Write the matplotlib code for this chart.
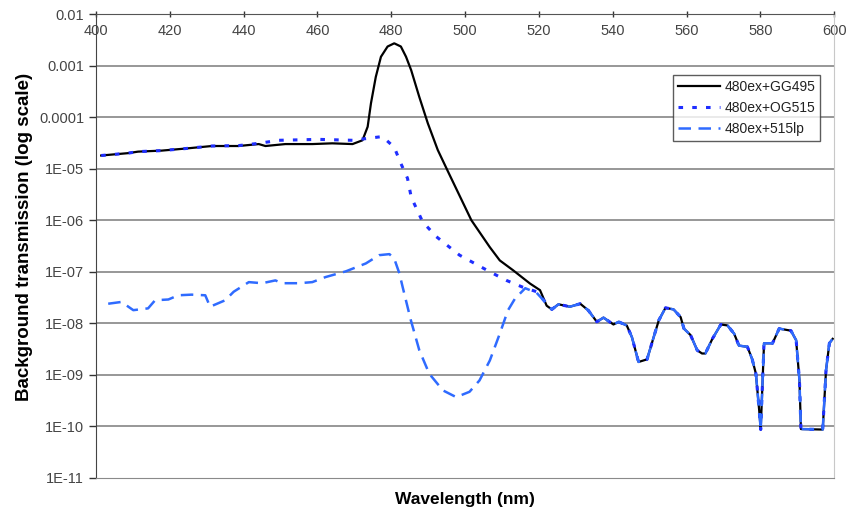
import numpy as np
import matplotlib
matplotlib.use("Agg")
import matplotlib.pyplot as plt

plt.rcParams['font.family'] = ['Liberation Sans', 'DejaVu Sans']

# shared tail, all three filters coincide above ~523 nm
tail_nm = [523.5, 525.3, 528.4, 531.2, 533.4, 535.7, 537.5, 540.2, 541.6, 543.8,
           545.2, 547.0, 549.3, 551.1, 552.5, 554.3, 556.5, 558.4, 559.3, 561.1,
           562.9, 564.2, 565.1, 567.0, 569.3, 571.1, 572.9, 574.2, 576.5, 577.8,
           578.8, 579.7, 580.1, 581.0, 583.3, 585.1, 588.3, 589.7, 590.6, 591.0,
           596.9, 597.8, 598.7, 599.6]
tail_val = [1.86e-8, 2.34e-8, 2.1e-8, 2.4e-8, 1.78e-8, 1.07e-8, 1.29e-8, 9.5e-9, 1.07e-8, 9.1e-9,
            5.4e-9, 1.78e-9, 2.0e-9, 5.4e-9, 1.15e-8, 2.0e-8, 1.86e-8, 1.32e-8, 7.9e-9, 5.9e-9,
            3.0e-9, 2.6e-9, 2.6e-9, 5.0e-9, 9.5e-9, 9.1e-9, 6.3e-9, 3.7e-9, 3.5e-9, 2.0e-9,
            1.05e-9, 2.0e-10, 8.7e-11, 4.1e-9, 4.1e-9, 7.9e-9, 7.2e-9, 4.7e-9, 7.8e-10, 8.9e-11,
            8.7e-11, 1.23e-9, 4.1e-9, 5.0e-9]

gg495_nm = [401.4, 408.7, 411.4, 417.8, 424.1, 431.4, 438.6, 444.1, 445.9, 451.3,
            458.6, 464.0, 469.5, 472.2, 473.6, 474.5, 475.8, 477.2, 479.0, 480.8,
            482.6, 484.0, 485.4, 487.6, 489.9, 492.6, 495.3, 501.7, 506.7, 509.4,
            513.0, 517.6, 520.3, 522.1]
gg495_val = [1.8e-5, 2.0e-5, 2.14e-5, 2.24e-5, 2.45e-5, 2.75e-5, 2.75e-5, 3.0e-5, 2.75e-5, 3.0e-5,
             3.0e-5, 3.1e-5, 3.0e-5, 3.55e-5, 6.5e-5, 1.86e-4, 6.0e-4, 1.48e-3, 2.34e-3, 2.7e-3,
             2.34e-3, 1.48e-3, 8.1e-4, 2.45e-4, 7.6e-5, 2.3e-5, 9.0e-6, 1.0e-6, 3.0e-7, 1.66e-7,
             1.07e-7, 5.9e-8, 4.4e-8, 2.2e-8]

og515_nm = [401.4, 408.7, 411.4, 417.8, 424.1, 431.4, 438.6, 444.1, 449.5, 460.4,
            469.5, 477.6, 480.8, 482.6, 484.4, 485.4, 488.5, 492.2, 498.5, 506.7,
            511.2, 515.7, 519.4, 522.1]
og515_val = [1.8e-5, 2.0e-5, 2.14e-5, 2.24e-5, 2.45e-5, 2.75e-5, 2.8e-5, 3.1e-5, 3.55e-5, 3.7e-5,
             3.55e-5, 4.2e-5, 2.6e-5, 1.26e-5, 6.5e-6, 2.8e-6, 9.3e-7, 4.8e-7, 2.1e-7, 1.0e-7,
             6.8e-8, 5.0e-8, 4.1e-8, 2.4e-8]

lp515_nm = [403.3, 406.9, 410.1, 414.1, 416.0, 419.6, 422.3, 425.9, 429.6, 430.9,
            435.0, 437.3, 441.4, 445.0, 448.6, 450.4, 455.0, 458.6, 462.2, 467.7,
            473.1, 476.7, 479.5, 480.8, 482.2, 483.1, 485.3, 487.6, 490.3, 494.0,
            497.6, 501.2, 503.9, 506.7, 509.4, 511.6, 513.5, 516.3, 519.4, 522.1]
lp515_val = [2.4e-8, 2.6e-8, 1.8e-8, 1.95e-8, 2.8e-8, 2.9e-8, 3.5e-8, 3.6e-8, 3.5e-8, 2.1e-8,
             2.8e-8, 4.1e-8, 6.3e-8, 6.0e-8, 6.8e-8, 6.0e-8, 6.0e-8, 6.3e-8, 7.9e-8, 1.02e-7,
             1.45e-7, 2.1e-7, 2.2e-7, 1.8e-7, 9.3e-8, 5.0e-8, 1.15e-8, 3.0e-9, 1.05e-9, 5.0e-10,
             3.7e-10, 4.7e-10, 7.8e-10, 1.9e-9, 6.3e-9, 1.78e-8, 3.0e-8, 4.8e-8, 3.9e-8, 2.4e-8]

y_ticks = [1e-2, 1e-3, 1e-4, 1e-5, 1e-6, 1e-7, 1e-8, 1e-9, 1e-10, 1e-11]
y_labels = ["0.01", "0.001", "0.0001", "1E-05", "1E-06", "1E-07", "1E-08", "1E-09", "1E-10", "1E-11"]
x_ticks = list(range(400, 601, 20))


fig = plt.figure(figsize=(8.46, 5.11), dpi=100)
ax = fig.add_axes([0.1135, 0.0646, 0.8725, 0.908])

ax.plot(gg495_nm + tail_nm, gg495_val + tail_val, color='black', lw=1.6,
        label='480ex+GG495', zorder=3)
ax.plot(og515_nm + tail_nm, og515_val + tail_val, color='#1f2eff', lw=2.2,
        linestyle=(0, (1.5, 3)), label='480ex+OG515', zorder=4)
ax.plot(lp515_nm + tail_nm, lp515_val + tail_val, color='#2f6bff', lw=1.8,
        linestyle=(0, (5, 3)), label='480ex+515lp', zorder=5)

ax.set_yscale('log')
ax.set_xlim(400, 600)
ax.set_ylim(1e-11, 1e-2)
ax.minorticks_off()
ax.set_yticks(y_ticks)
ax.set_yticklabels(y_labels)
ax.set_xticks(x_ticks)

for y in y_ticks[1:-1]:
    ax.axhline(y, color='#7a7a7a', lw=1.1, zorder=1)

ax.tick_params(axis='y', direction='out', length=5, width=1, colors='#333333',
               labelsize=10.5, labelcolor='#444444')
ax.tick_params(axis='x', top=True, bottom=False, labeltop=True, labelbottom=False,
               direction='inout', length=5, width=1, pad=-20, labelsize=10.5,
               colors='#333333', labelcolor='#444444')

ax.spines['left'].set_color('#444444')
ax.spines['top'].set_color('#555555')
ax.spines['bottom'].set_color('#8a8a8a')
ax.spines['right'].set_color('#c8c8c8')

ax.set_ylabel('Background transmission (log scale)', fontsize=13.5, fontweight='bold')
ax.yaxis.set_label_coords(-0.086, 0.52)
ax.set_xlabel('Wavelength (nm)', fontsize=12.5, fontweight='bold')
ax.xaxis.set_label_coords(0.5, -0.03)

leg = ax.legend(loc='upper left', bbox_to_anchor=(0.782, 0.868), fontsize=10,
                frameon=True, fancybox=False, handlelength=3.0, borderpad=0.35,
                labelspacing=0.5, handletextpad=0.35, borderaxespad=0)
leg.get_frame().set_edgecolor('#333333')
leg.get_frame().set_linewidth(1)
for t in leg.get_texts():
    t.set_color('#222222')

fig.savefig('out.png', dpi=100)
